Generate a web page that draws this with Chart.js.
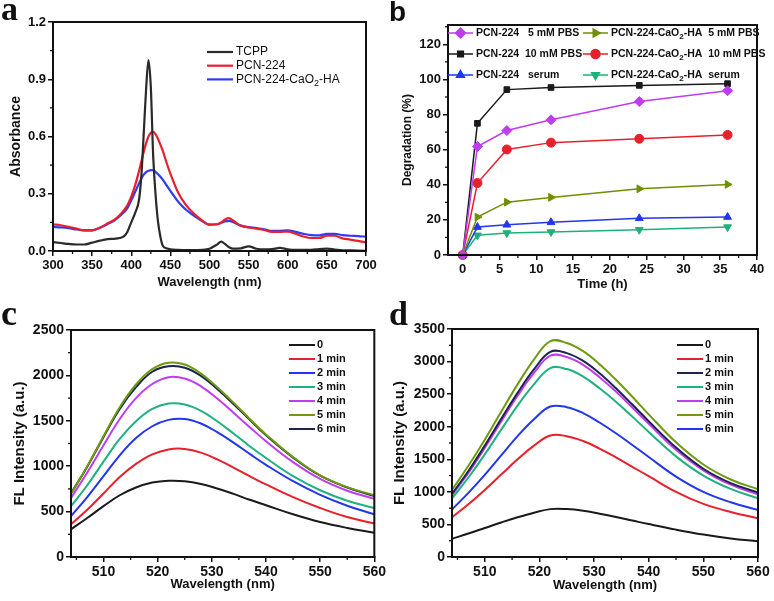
<!DOCTYPE html>
<html>
<head>
<meta charset="utf-8">
<script src="https://cdn.jsdelivr.net/npm/chart.js"></script>
<style>
  body { margin: 0; background: #fff; width: 774px; height: 601px; position: relative; overflow: hidden; }
  canvas { position: absolute; }
  .tag { position: absolute; font-weight: bold; line-height: 1; color: #111; }
</style>
</head>
<body>
<canvas id="chartA" width="388" height="292" style="left:0;top:0"></canvas>
<canvas id="chartB" width="386" height="292" style="left:388px;top:0"></canvas>
<canvas id="chartC" width="388" height="309" style="left:0;top:292px"></canvas>
<canvas id="chartD" width="386" height="309" style="left:388px;top:292px"></canvas>
<div class="tag" style="left:1px;top:-8px;font-size:34px;font-family:'Liberation Serif',serif">a</div>
<div class="tag" style="left:389px;top:-2px;font-size:28px;font-family:'Liberation Sans',sans-serif">b</div>
<div class="tag" style="left:1px;top:295px;font-size:36px;font-family:'Liberation Serif',serif">c</div>
<div class="tag" style="left:389px;top:297px;font-size:34px;font-family:'Liberation Serif',serif">d</div>
<script>
// ---- panel a: UV-vis absorbance ----
const wlA = [300, 310, 320, 330, 340, 350, 360, 370, 380, 390, 395, 400, 405, 410, 413, 416, 419, 422, 425, 428,
  431, 434, 437, 440, 445, 450, 460, 470, 480, 490, 500, 510, 515, 520, 525, 530, 540, 550, 560, 570,
  580, 590, 600, 610, 620, 630, 640, 650, 660, 670, 680, 690, 700];
const absTCPP = [0.047, 0.042, 0.037, 0.034, 0.034, 0.044, 0.054, 0.062, 0.065, 0.075, 0.1, 0.15, 0.2, 0.27, 0.4, 0.62, 0.85, 1.0, 0.86, 0.5,
  0.3, 0.16, 0.08, 0.03, 0.014, 0.009, 0.006, 0.005, 0.005, 0.006, 0.012, 0.035, 0.049, 0.036, 0.02, 0.012, 0.014, 0.024, 0.012, 0.008,
  0.01, 0.016, 0.009, 0.006, 0.006, 0.006, 0.01, 0.012, 0.008, 0.004, 0.003, 0.002, 0.001];
const absPCN = [0.14, 0.135, 0.127, 0.117, 0.108, 0.108, 0.122, 0.145, 0.168, 0.21, 0.24, 0.285, 0.345, 0.42, 0.47, 0.52, 0.565, 0.6, 0.62, 0.625,
  0.612, 0.59, 0.56, 0.528, 0.465, 0.405, 0.305, 0.24, 0.196, 0.162, 0.138, 0.14, 0.15, 0.165, 0.172, 0.16, 0.133, 0.123, 0.117, 0.11,
  0.1, 0.1, 0.102, 0.09, 0.076, 0.068, 0.068, 0.08, 0.08, 0.066, 0.06, 0.053, 0.045];
const absPCNCaO2 = [0.126, 0.124, 0.12, 0.113, 0.108, 0.108, 0.122, 0.142, 0.165, 0.2, 0.225, 0.265, 0.31, 0.355, 0.38, 0.4, 0.413, 0.42, 0.424, 0.423,
  0.415, 0.403, 0.39, 0.375, 0.345, 0.315, 0.258, 0.216, 0.185, 0.158, 0.138, 0.14, 0.148, 0.155, 0.158, 0.152, 0.133, 0.125, 0.12, 0.113,
  0.105, 0.106, 0.108, 0.1, 0.09, 0.083, 0.082, 0.09, 0.09, 0.083, 0.08, 0.078, 0.075];
const aLabels = ['TCPP', 'PCN-224', 'PCN-224-CaO₂-HA'];
const aXTicks = [300, 350, 400, 450, 500, 550, 600, 650, 700];
const aYTicks = [0, 0.3, 0.6, 0.9, 1.2];

// ---- panel b: degradation over time ----
const timeB = [0, 2, 6, 12, 24, 36];
const degPCN5 = [0, 61.8, 70.9, 77, 87.4, 93.6];
const degCaO2_5 = [0, 21.6, 30.1, 32.8, 37.7, 40.2];
const degPCN10 = [0, 75, 94.2, 95.4, 96.6, 97.6];
const degCaO2_10 = [0, 41, 60.1, 64, 66.2, 68.4];
const degPCNSerum = [0, 15.9, 17.2, 18.6, 20.9, 21.6];
const degCaO2Serum = [0, 11.2, 12.5, 13.1, 14.4, 15.9];
const bLabels = ['PCN-224   5 mM PBS', 'PCN-224-CaO₂-HA  5 mM PBS', 'PCN-224  10 mM PBS',
  'PCN-224-CaO₂-HA  10 mM PBS', 'PCN-224   serum', 'PCN-224-CaO₂-HA  serum'];
const bXTicks = [0, 5, 10, 15, 20, 25, 30, 35, 40];
const bYTicks = [0, 20, 40, 60, 80, 100, 120];

// ---- panels c, d: fluorescence spectra ----
const wlFL = [504, 507, 510, 513, 516, 519, 522, 525, 528, 531, 534, 537, 540, 545, 550, 555, 560];
const fl0C = [305, 430, 560, 680, 765, 820, 840, 835, 805, 755, 695, 630, 570, 470, 385, 320, 267];
const fl1C = [360, 520, 700, 880, 1025, 1130, 1185, 1190, 1150, 1075, 985, 890, 800, 660, 540, 440, 370];
const fl2C = [450, 660, 890, 1120, 1310, 1440, 1510, 1520, 1470, 1375, 1260, 1135, 1015, 835, 685, 565, 470];
const fl3C = [560, 790, 1050, 1300, 1495, 1630, 1690, 1680, 1610, 1495, 1360, 1220, 1090, 890, 735, 620, 540];
const fl4C = [650, 930, 1230, 1520, 1750, 1905, 1980, 1965, 1880, 1745, 1590, 1430, 1275, 1045, 860, 730, 640];
const fl5C = [700, 1000, 1330, 1650, 1900, 2070, 2140, 2120, 2020, 1870, 1700, 1520, 1350, 1100, 900, 770, 680];
const fl6C = [700, 995, 1320, 1630, 1870, 2040, 2100, 2085, 1995, 1850, 1685, 1510, 1340, 1095, 895, 765, 670];
const fl0D = [280, 360, 445, 530, 610, 680, 735, 735, 710, 665, 615, 560, 505, 420, 345, 285, 240];
const fl1D = [610, 810, 1030, 1265, 1500, 1710, 1865, 1855, 1780, 1665, 1530, 1385, 1240, 1000, 815, 690, 595];
const fl2D = [970, 1320, 1710, 2120, 2520, 2880, 3150, 3130, 3010, 2820, 2590, 2340, 2085, 1680, 1355, 1135, 990];
const fl3D = [900, 1220, 1575, 1955, 2325, 2650, 2900, 2885, 2770, 2590, 2385, 2155, 1920, 1545, 1250, 1045, 900];
const fl4D = [950, 1290, 1675, 2080, 2475, 2825, 3090, 3070, 2950, 2760, 2540, 2295, 2045, 1645, 1330, 1110, 960];
const fl5D = [1030, 1400, 1800, 2230, 2650, 3030, 3315, 3285, 3160, 2960, 2720, 2460, 2190, 1760, 1420, 1190, 1040];
const fl6D = [730, 985, 1260, 1560, 1855, 2115, 2310, 2300, 2210, 2065, 1900, 1720, 1535, 1235, 1000, 840, 720];
const minLabels = ['0', '1 min', '2 min', '3 min', '4 min', '5 min', '6 min'];
const flXTicks = [510, 520, 530, 540, 550, 560];
const cYTicks = [0, 500, 1000, 1500, 2000, 2500];
const dYTicks = [0, 500, 1000, 1500, 2000, 2500, 3000, 3500];

const FONT = "'Liberation Sans', Arial, sans-serif";
const INK = '#111';

// text with subscript 2 (CaO₂)
function drawRich(ctx, text, x, y, size, weight) {
  const parts = text.split('₂');
  let cx = x;
  parts.forEach((p, i) => {
    ctx.font = `${weight} ${size}px ${FONT}`;
    ctx.fillText(p, cx, y);
    cx += ctx.measureText(p).width;
    if (i < parts.length - 1) {
      ctx.font = `${weight} ${Math.round(size * 0.72)}px ${FONT}`;
      ctx.fillText('2', cx, y + size * 0.32);
      cx += ctx.measureText('2').width;
    }
  });
}

// box around the plot, minor ticks, and a hand-placed legend
const framePlugin = {
  id: 'frame',
  afterDraw(chart, args, opts) {
    const { ctx, chartArea: a } = chart;
    ctx.save();
    ctx.strokeStyle = INK;
    ctx.lineWidth = 1.3;
    ['x', 'y'].forEach(id => {
      const s = chart.scales[id];
      const vals = s.ticks.map(t => t.value);
      const step = vals[1] - vals[0];
      for (let v = vals[0] - step / 2; v <= s.max + 1e-9; v += step) {
        if (v < s.min - 1e-9) continue;
        const p = s.getPixelForValue(v);
        ctx.beginPath();
        if (id === 'x') { ctx.moveTo(p, a.bottom); ctx.lineTo(p, a.bottom + 3); }
        else { ctx.moveTo(a.left, p); ctx.lineTo(a.left - 3, p); }
        ctx.stroke();
      }
    });
    ctx.lineWidth = 2;
    ctx.strokeRect(a.left, a.top, a.right - a.left, a.bottom - a.top);

    const lg = opts.legend;
    if (lg) {
      ctx.textBaseline = 'middle';
      ctx.fillStyle = INK;
      chart.data.datasets.forEach((ds, i) => {
        const col = i % lg.xs.length;
        const row = Math.floor(i / lg.xs.length);
        const x = lg.xs[col];
        const y = lg.y0 + row * lg.dy;
        ctx.strokeStyle = ds.borderColor;
        ctx.lineWidth = ds.borderWidth;
        ctx.beginPath(); ctx.moveTo(x, y); ctx.lineTo(x + lg.len, y); ctx.stroke();
        if (lg.marker) {
          ctx.fillStyle = ds.borderColor;
          Chart.helpers.drawPoint(ctx, { pointStyle: ds.pointStyle, rotation: ds.pointRotation || 0,
            radius: ds.pointRadius, borderWidth: 1 }, x + lg.len / 2, y);
          ctx.fill();
        }
        ctx.fillStyle = INK;
        drawRich(ctx, ds.label, x + lg.len + lg.gap, y, lg.size, lg.weight);
      });
    }
    ctx.restore();
  }
};

function xyData(xs, ys) {
  return xs.map((x, i) => ({ x, y: ys[i] }));
}

function axis(o) {
  return {
    type: 'linear', min: o.min, max: o.max,
    afterBuildTicks: s => { s.ticks = o.ticks.map(v => ({ value: v })); },
    afterFit: s => { if (o.horiz) s.height = o.size; else s.width = o.size; },
    grid: { drawOnChartArea: false, color: INK, lineWidth: 1.5, tickLength: 5 },
    border: { display: true, color: INK, width: 2 },
    ticks: { color: INK, padding: 2, autoSkip: false, maxRotation: 0,
      font: { family: FONT, size: o.tickSize, weight: 'bold' },
      callback: o.fmt || (v => String(v)) },
    title: { display: true, text: o.title, color: INK,
      font: { family: FONT, size: o.titleSize, weight: 'bold' },
      padding: o.horiz ? { top: 0, bottom: o.titlePad } : { top: o.titlePad, bottom: 0 } }
  };
}

function baseOptions(pad, scales, legend) {
  return {
    responsive: false, animation: false, devicePixelRatio: 1, events: [],
    layout: { padding: pad },
    plugins: { legend: { display: false }, tooltip: { enabled: false }, frame: { legend } },
    scales
  };
}

// ---- draw panel a ----
const aColors = ['#2a2a2a', '#e8202c', '#2f3cf2'];
new Chart(document.getElementById('chartA'), {
  type: 'line',
  data: {
    datasets: [absTCPP, absPCN, absPCNCaO2].map((ys, i) => ({
      label: aLabels[i], data: xyData(wlA, ys), borderColor: aColors[i], borderWidth: 2.2,
      pointRadius: 0, cubicInterpolationMode: 'monotone', fill: false
    }))
  },
  options: baseOptions({ top: 22, right: 22, left: 0, bottom: 0 }, {
    x: axis({ horiz: true, min: 300, max: 700, ticks: aXTicks, size: 41, tickSize: 13,
      title: 'Wavelength (nm)', titleSize: 13, titlePad: 2 }),
    y: axis({ min: 0, max: 1.2, ticks: aYTicks, size: 53, tickSize: 13, fmt: v => v.toFixed(1),
      title: 'Absorbance', titleSize: 14, titlePad: 7.6 })
  }, { xs: [207], y0: 52, dy: 13.7, len: 26, gap: 3, size: 12, weight: 'normal' }),
  plugins: [framePlugin]
});

// ---- draw panel b ----
const bSeries = [degPCN5, degCaO2_5, degPCN10, degCaO2_10, degPCNSerum, degCaO2Serum];
const bColors = ['#c03cf0', '#6f8f00', '#1a1a1a', '#e8202c', '#2236ee', '#1fb07a'];
const bStyles = ['rectRot', 'triangle', 'rect', 'circle', 'triangle', 'triangle'];
const bRot = [0, 90, 0, 0, 0, 180];
const bRadius = [5, 4.5, 4, 4.5, 4.5, 4.5];
new Chart(document.getElementById('chartB'), {
  type: 'line',
  data: {
    datasets: bSeries.map((ys, i) => ({
      label: bLabels[i], data: xyData(timeB, ys), borderColor: bColors[i], backgroundColor: bColors[i],
      borderWidth: 1.5, pointStyle: bStyles[i], pointRotation: bRot[i], pointRadius: bRadius[i],
      pointBorderWidth: 1, tension: 0, clip: 6
    }))
  },
  options: baseOptions({ top: 25, right: 17, left: 0, bottom: 0 }, {
    x: axis({ horiz: true, min: -2, max: 40, ticks: bXTicks, size: 37, tickSize: 13,
      title: 'Time (h)', titleSize: 13, titlePad: 0 }),
    y: axis({ min: 0, max: 131, ticks: bYTicks, size: 60, tickSize: 13,
      title: 'Degradation (%)', titleSize: 12, titlePad: 12.8 })
  }, { xs: [60, 195], y0: 33, dy: 21, len: 25, gap: 3, size: 10.5, weight: 'bold', marker: true }),
  plugins: [framePlugin]
});

// ---- draw panels c and d ----
const cColors = ['#1a1a1a', '#e8202c', '#2236ee', '#1fb27e', '#c03cf0', '#6f9a0e', '#1c2450'];
const dColors = ['#1a1a1a', '#e8202c', '#1c2450', '#1fb27e', '#c03cf0', '#6f9a0e', '#2236ee'];

function flChart(id, series, colors, yTicks, yMax, pad, ySize, yTitlePad, xTitlePad) {
  new Chart(document.getElementById(id), {
    type: 'line',
    data: {
      datasets: series.map((ys, i) => ({
        label: minLabels[i], data: xyData(wlFL, ys), borderColor: colors[i], borderWidth: 2,
        pointRadius: 0, tension: 0.4, fill: false
      }))
    },
    options: baseOptions(pad, {
      x: axis({ horiz: true, min: 504, max: 560, ticks: flXTicks, size: 44, tickSize: 14,
        title: 'Wavelength (nm)', titleSize: 13, titlePad: xTitlePad }),
      y: axis({ min: 0, max: yMax, ticks: yTicks, size: ySize, tickSize: 14,
        title: 'FL Intensity (a.u.)', titleSize: 15, titlePad: yTitlePad })
    }, { xs: [289], y0: 53, dy: 14, len: 26, gap: 2, size: 11, weight: 'bold' }),
    plugins: [framePlugin]
  });
}

flChart('chartC', [fl0C, fl1C, fl2C, fl3C, fl4C, fl5C, fl6C], cColors, cYTicks, 2500,
  { top: 38, right: 10, left: 0, bottom: 0 }, 71, 11, 9.2);
flChart('chartD', [fl0D, fl1D, fl2D, fl3D, fl4D, fl5D, fl6D], dColors, dYTicks, 3500,
  { top: 37, right: 16, left: 0, bottom: 0 }, 64, 3, 7.5);
</script>
</body>
</html>
